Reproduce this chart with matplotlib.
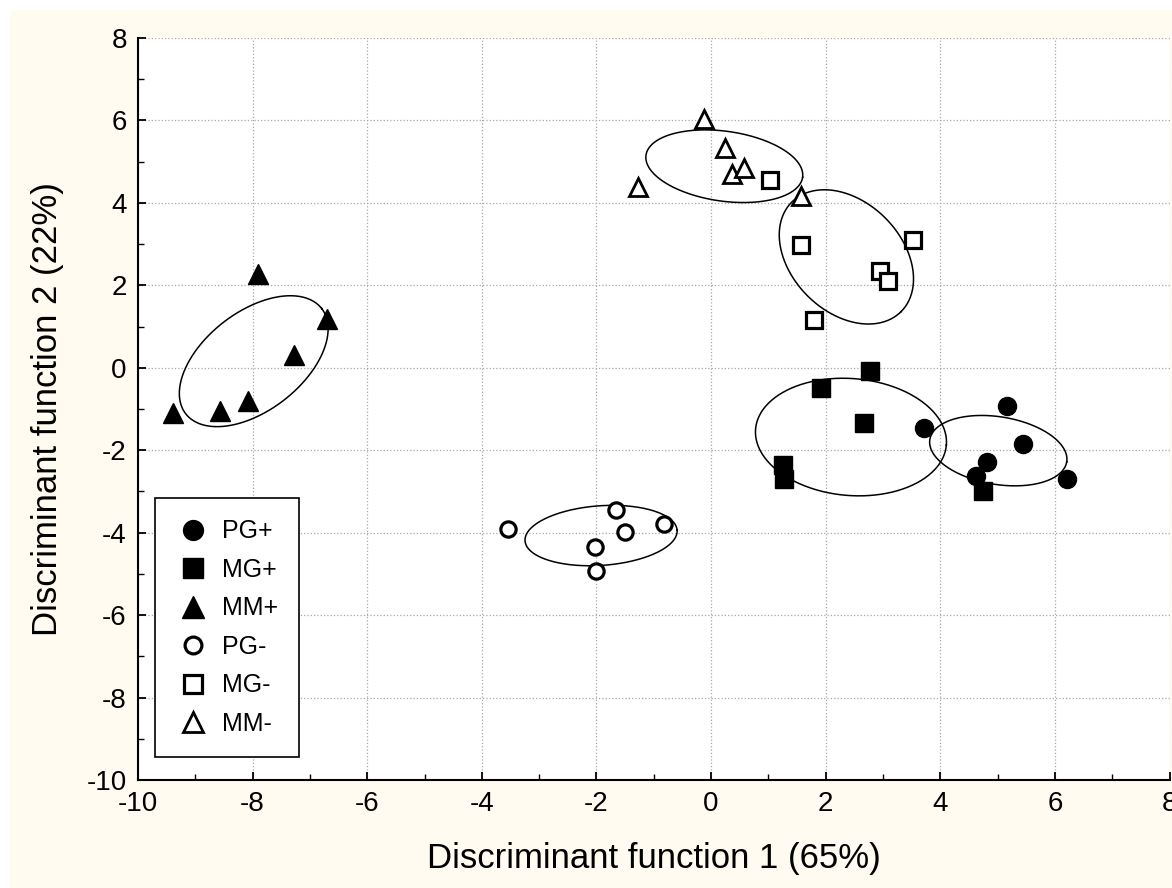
import numpy as np
import matplotlib
matplotlib.use("Agg")
import matplotlib.pyplot as plt
from matplotlib.patches import Rectangle

plt.rcParams['font.family'] = ['Liberation Sans', 'DejaVu Sans']
plt.rcParams['axes.unicode_minus'] = False

# puntos por grupo (función discriminante 1, función discriminante 2)
pg_pos_x = [3.72, 5.16, 5.45, 4.82, 4.63, 6.21]
pg_pos_y = [-1.45, -0.92, -1.84, -2.28, -2.62, -2.69]
mg_pos_x = [1.92, 2.78, 2.67, 1.26, 1.28, 4.74]
mg_pos_y = [-0.48, -0.07, -1.33, -2.37, -2.69, -2.98]
mm_pos_x = [-9.39, -8.57, -8.08, -7.90, -7.27, -6.70]
mm_pos_y = [-1.09, -1.04, -0.80, 2.28, 0.31, 1.18]
pg_neg_x = [-3.55, -2.03, -2.01, -1.66, -1.50, -0.82]
pg_neg_y = [-3.90, -4.35, -4.92, -3.44, -3.99, -3.78]
mg_neg_x = [1.03, 1.56, 1.80, 2.95, 3.09, 3.53]
mg_neg_y = [4.55, 2.98, 1.16, 2.35, 2.10, 3.10]
mm_neg_x = [-1.28, -0.12, 0.24, 0.37, 0.58, 1.57]
mm_neg_y = [4.38, 6.03, 5.33, 4.70, 4.85, 4.16]

# elipses: centro x, centro y, semieje mayor, semieje menor (unidades de x), angulo en pantalla
elipses = [
    (5.01, -2.01, 1.21, 0.59, -9.3),    # PG+
    (2.44, -1.68, 1.67, 1.02, -4.8),    # MG+
    (-7.98, 0.16, 1.50, 0.86, 37.7),    # MM+
    (-1.92, -4.07, 1.33, 0.52, 4.0),    # PG-
    (2.36, 2.69, 1.35, 0.96, -45.0),    # MG-
    (0.23, 4.89, 1.38, 0.61, -8.0),     # MM-
]

etiquetas = ['PG+', 'MG+', 'MM+', 'PG-', 'MG-', 'MM-']


def dibujar_elipse(ax, cx, cy, a, b, ang, k):
    t = np.linspace(0, 2 * np.pi, 300)
    phi = np.radians(ang)
    u = a * np.cos(t) * np.cos(phi) - b * np.sin(t) * np.sin(phi)
    v = a * np.cos(t) * np.sin(phi) + b * np.sin(t) * np.cos(phi)
    ax.plot(cx + u, cy + v / k, color='black', lw=1.1, zorder=2)


fig = plt.figure(figsize=(11.72, 8.88), dpi=100, facecolor='white')
fig.patches.append(Rectangle((10 / 1172, 0), 1, 878 / 888, transform=fig.transFigure,
                             facecolor='#fffbf0', edgecolor='none', zorder=-10))
ax = fig.add_axes([0.1177, 0.1216, 0.8803, 0.8356])
ax.set_facecolor('white')

ax.set_xlim(-10, 8)
ax.set_ylim(-10, 8)
ax.set_xticks(np.arange(-10, 9, 2))
ax.set_yticks(np.arange(-10, 9, 2))
ax.set_xticks(np.arange(-9, 8, 2), minor=True)
ax.set_yticks(np.arange(-9, 8, 2), minor=True)
ax.grid(True, which='major', color='#a8a8a8', linestyle=':', lw=0.9)
ax.set_axisbelow(True)

for lado in ['top', 'right']:
    ax.spines[lado].set_visible(False)
for lado in ['left', 'bottom']:
    ax.spines[lado].set_linewidth(1.5)
ax.tick_params(which='major', direction='in', length=6, width=1.3, labelsize=20, pad=8)
ax.tick_params(which='minor', direction='in', length=4, width=1.0)

# relación de aspecto en pixeles (y respecto de x)
bb = ax.get_position()
k = (bb.height * 888 / 18) / (bb.width * 1172 / 18)
for (cx, cy, a, b, ang) in elipses:
    dibujar_elipse(ax, cx, cy, a, b, ang, k)

ms = 13
ax.plot(pg_pos_x, pg_pos_y, 'o', color='black', ms=ms, label=etiquetas[0], zorder=3)
ax.plot(mg_pos_x, mg_pos_y, 's', color='black', ms=ms, label=etiquetas[1], zorder=3)
ax.plot(mm_pos_x, mm_pos_y, '^', color='black', ms=ms + 1, label=etiquetas[2], zorder=3)
ax.plot(pg_neg_x, pg_neg_y, 'o', mfc='white', mec='black', mew=2.3, ms=ms - 2, label=etiquetas[3], zorder=3)
ax.plot(mg_neg_x, mg_neg_y, 's', mfc='white', mec='black', mew=2.3, ms=ms - 1, label=etiquetas[4], zorder=3)
ax.plot(mm_neg_x, mm_neg_y, '^', mfc='white', mec='black', mew=2.0, ms=ms, label=etiquetas[5], zorder=3)

leg = ax.legend(loc='lower left', bbox_to_anchor=(0.017, 0.031), borderaxespad=0,
                fontsize=18, frameon=True, fancybox=False, handlelength=1.3,
                handletextpad=0.5, labelspacing=0.58, borderpad=0.85, markerscale=1.1)
leg.get_frame().set_edgecolor('black')
leg.get_frame().set_linewidth(1.2)
leg.get_frame().set_alpha(1)

ax.set_xlabel('Discriminant function 1 (65%)', fontsize=25, labelpad=18)
ax.set_ylabel('Discriminant function 2 (22%)', fontsize=25, labelpad=16)

fig.savefig('out.png', dpi=100, facecolor=fig.get_facecolor())
